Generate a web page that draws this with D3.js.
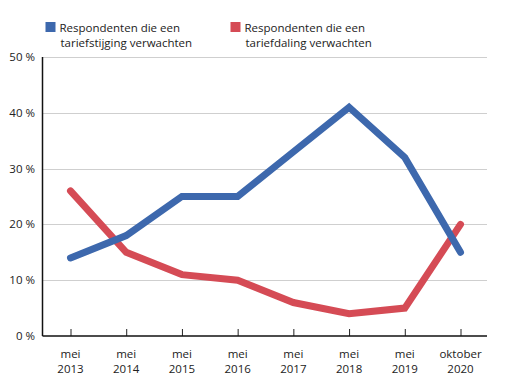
<!DOCTYPE html>
<html>
<head>
<meta charset="utf-8">
<script src="https://cdn.jsdelivr.net/npm/d3@7"></script>
<style>
  body { margin: 0; background: #fff; }
  svg { display: block; font-family: "Open Sans", "DejaVu Sans", sans-serif; }
</style>
</head>
<body>
<div></div>
<script>
const periods = ["mei 2013", "mei 2014", "mei 2015", "mei 2016", "mei 2017", "mei 2018", "mei 2019", "oktober 2020"];
const stijging = [14, 18, 25, 25, 33, 41, 32, 15];
const daling = [26, 15, 11, 10, 6, 4, 5, 20];
const yTicks = [0, 10, 20, 30, 40, 50];
const legendLabels = [
  ["Respondenten die een", "tariefstijging verwachten"],
  ["Respondenten die een", "tariefdaling verwachten"]
];
const colors = ["#3d68ad", "#d54b55"];

const width = 505, height = 387;
const margin = {top: 57, right: 18, bottom: 51, left: 42.5};

const svg = d3.select("div")
  .append("svg")
  .attr("width", width)
  .attr("height", height);

const xScale = d3.scalePoint()
  .domain(periods)
  .range([70.5, 460.5]);

const yScale = d3.scaleLinear()
  .domain([0, 50])
  .range([height - margin.bottom, margin.top]);

// gridlines
svg.append("g")
  .selectAll("line")
  .data(yTicks.filter(d => d > 0))
  .enter()
  .append("line")
  .attr("x1", margin.left)
  .attr("x2", 487)
  .attr("y1", d => Math.round(yScale(d)) + 0.5)
  .attr("y2", d => Math.round(yScale(d)) + 0.5)
  .attr("stroke", "#cfcfcf")
  .attr("stroke-width", 1);

// y labels
svg.append("g")
  .selectAll("text")
  .data(yTicks)
  .enter()
  .append("text")
  .attr("x", 35)
  .attr("y", d => yScale(d) + 4)
  .attr("text-anchor", "end")
  .attr("font-size", 11.5)
  .attr("fill", "#222")
  .text(d => d + " %");

// x axis with ticks pointing up
const xAxis = d3.axisBottom(xScale).tickSize(-7).tickFormat("");
const gx = svg.append("g")
  .attr("transform", "translate(0," + Math.round(yScale(0)) + ")")
  .call(xAxis);
gx.select(".domain").remove();
gx.selectAll(".tick line").attr("stroke", "#222");

svg.append("line")
  .attr("x1", margin.left).attr("x2", 487)
  .attr("y1", Math.round(yScale(0))).attr("y2", Math.round(yScale(0)))
  .attr("stroke", "#111").attr("stroke-width", 1.5);
svg.append("line")
  .attr("x1", margin.left).attr("x2", margin.left)
  .attr("y1", yScale(50)).attr("y2", Math.round(yScale(0)))
  .attr("stroke", "#111").attr("stroke-width", 1.5);

// x labels, two lines each
const xl = svg.append("g")
  .selectAll("text")
  .data(periods)
  .enter()
  .append("text")
  .attr("text-anchor", "middle")
  .attr("font-size", 11.5)
  .attr("fill", "#222");
xl.append("tspan")
  .attr("x", d => xScale(d))
  .attr("y", 358)
  .text(d => d.split(" ")[0]);
xl.append("tspan")
  .attr("x", d => xScale(d))
  .attr("y", 373)
  .text(d => d.split(" ")[1]);

// lines, red first so blue sits on top at the crossings
const line = d3.line()
  .x((d, i) => xScale(periods[i]))
  .y(d => yScale(d));

[daling, stijging].forEach((s, k) => {
  svg.append("path")
    .datum(s)
    .attr("d", line)
    .attr("fill", "none")
    .attr("stroke", colors[1 - k])
    .attr("stroke-width", 7)
    .attr("stroke-linejoin", "miter")
    .attr("stroke-linecap", "round");
});

// legend
const lg = svg.append("g");
[45.5, 230.5].forEach((x, k) => {
  lg.append("rect")
    .attr("x", x).attr("y", 22)
    .attr("width", 10).attr("height", 10)
    .attr("fill", colors[k]);
  const t = lg.append("text")
    .attr("font-size", 11.5)
    .attr("fill", "#222");
  t.append("tspan").attr("x", x + 14).attr("y", 32).text(legendLabels[k][0]);
  t.append("tspan").attr("x", x + 15).attr("y", 47).text(legendLabels[k][1]);
});
</script>
</body>
</html>
